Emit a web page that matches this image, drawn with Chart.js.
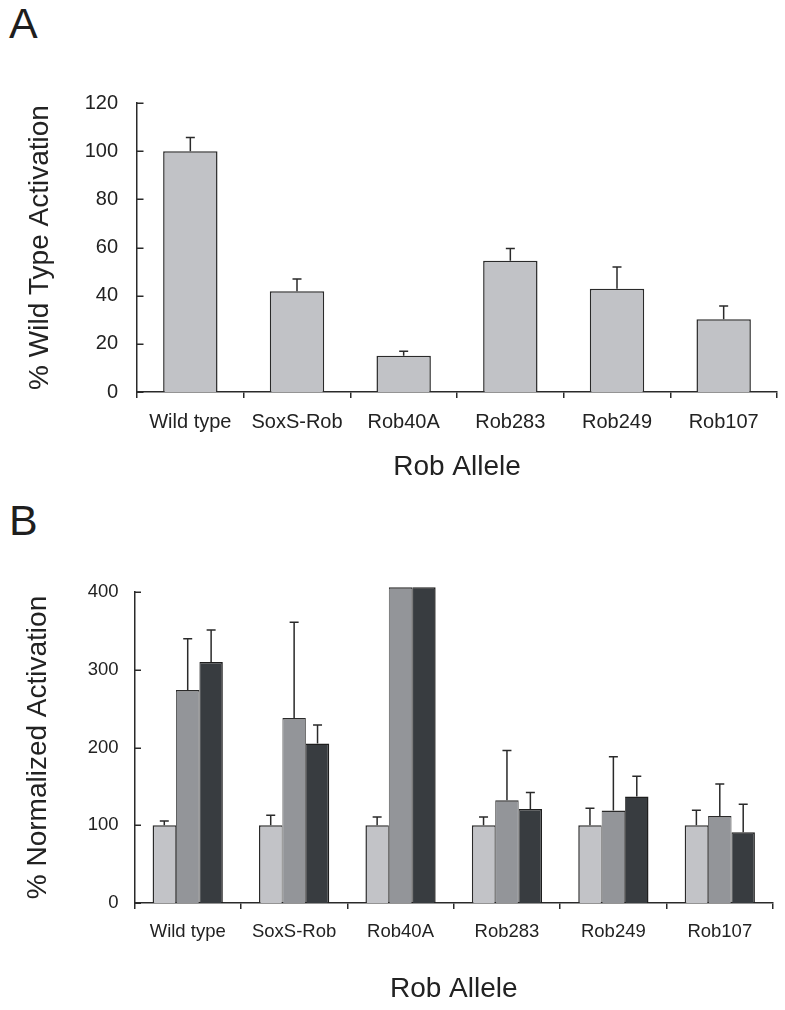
<!DOCTYPE html>
<html>
<head>
<meta charset="utf-8">
<script src="https://cdn.jsdelivr.net/npm/chart.js@4.4.1/dist/chart.umd.min.js"></script>
<style>
  html, body { margin: 0; padding: 0; background: #fff; }
  body { width: 785px; height: 1010px; position: relative; overflow: hidden; font-family: "Liberation Sans", Arial, sans-serif; }
  .panel { position: absolute; font-size: 43px; line-height: 43px; color: #1e1e1e; font-family: "Liberation Sans", Arial, sans-serif; }
  canvas { position: absolute; left: 0; }
</style>
</head>
<body>
<div class="panel" style="left:9px; top:2px;">A</div>
<div class="panel" style="left:9px; top:499px;">B</div>
<canvas id="chartA" width="785" height="500" style="top:0px;"></canvas>
<canvas id="chartB" width="785" height="510" style="top:500px;"></canvas>
<script>
// ---- Data ----
const categories = ["Wild type", "SoxS-Rob", "Rob40A", "Rob283", "Rob249", "Rob107"];

// Panel A: % wild type activation (mean, upper error)
const valuesA = [100, 41.8, 15.1, 54.5, 42.9, 30.2];
const errorsA = [5.7, 5.1, 1.8, 5.1, 9.0, 5.5];
const ticksA = [0, 20, 40, 60, 80, 100, 120];

// Panel B: % normalized activation, three series
const valuesB1 = [100, 100, 100, 100, 100, 100];
const errorsB1 = [5.5, 12.9, 10.7, 10.7, 21.9, 19.3];
const valuesB2 = [274, 238, 406, 132, 119, 112];   // Rob40A off-scale (truncated)
const errorsB2 = [66, 123, null, 64, 69, 41];
const valuesB3 = [310, 205, 406, 121, 137, 91];    // Rob40A off-scale (truncated)
const errorsB3 = [41, 24, null, 21, 26, 36];
const ticksB = [0, 100, 200, 300, 400];

const FONT = "'Liberation Sans', Arial, sans-serif";
const INK = '#222222';

// ---- Plugins ----
const errorBars = {
  id: 'errorBars',
  afterDatasetsDraw(chart) {
    const ctx = chart.ctx;
    const y = chart.scales.y;
    chart.data.datasets.forEach((ds, di) => {
      const errs = ds.errors;
      if (!errs) return;
      const meta = chart.getDatasetMeta(di);
      meta.data.forEach((bar, i) => {
        const e = errs[i];
        if (e == null) return;
        const v = ds.data[i];
        const yBase = y.getPixelForValue(v);
        const yTop = y.getPixelForValue(v + e);
        ctx.save();
        ctx.strokeStyle = '#2a2a2a';
        ctx.lineWidth = 1.5;
        ctx.beginPath();
        ctx.moveTo(bar.x, yBase);
        ctx.lineTo(bar.x, yTop);
        ctx.moveTo(bar.x - 4.5, yTop);
        ctx.lineTo(bar.x + 4.5, yTop);
        ctx.stroke();
        ctx.restore();
      });
    });
  }
};

const innerYTicks = {
  id: 'innerYTicks',
  afterDraw(chart) {
    const s = chart.scales.y;
    const ctx = chart.ctx;
    ctx.save();
    ctx.strokeStyle = '#2a2a2a';
    ctx.lineWidth = 1.5;
    ctx.beginPath();
    s.ticks.forEach((t, i) => {
      const py = Math.round(s.getPixelForTick(i)) + 0.25;
      ctx.moveTo(s.right, py);
      ctx.lineTo(s.right + 6.5, py);
    });
    ctx.stroke();
    ctx.restore();
  }
};

function xScale(fontSize, labelPad, height) {
  return {
    type: 'category',
    offset: true,
    grid: { display: true, drawOnChartArea: false, drawTicks: true, tickLength: 6, offset: true, color: '#2a2a2a', lineWidth: 1.5 },
    border: { display: true, color: '#2a2a2a', width: 1.5 },
    ticks: { color: INK, font: { family: FONT, size: fontSize }, padding: labelPad, maxRotation: 0, autoSkip: false },
    title: { display: true, text: 'Rob Allele', color: INK, font: { family: FONT, size: 28 }, padding: 0 },
    afterFit(scale) { scale.height = height; }
  };
}

function yScale(max, step, tickList, fontSize, labelPad, width, titleText) {
  return {
    type: 'linear',
    min: 0,
    max: max,
    afterBuildTicks(scale) { scale.ticks = tickList.map(v => ({ value: v })); },
    grid: { display: false, drawTicks: false },
    border: { display: true, color: '#2a2a2a', width: 1.5 },
    ticks: { stepSize: step, color: INK, font: { family: FONT, size: fontSize }, padding: labelPad },
    title: { display: true, text: titleText, color: INK, font: { family: FONT, size: 28 }, padding: 0 },
    afterFit(scale) { scale.width = width; }
  };
}

const common = {
  responsive: false,
  animation: false,
  devicePixelRatio: 1,
  events: [],
  plugins: { legend: { display: false }, tooltip: { enabled: false }, title: { display: false } }
};

// ---- Chart A ----
new Chart(document.getElementById('chartA'), {
  type: 'bar',
  data: {
    labels: categories,
    datasets: [{
      data: valuesA,
      errors: errorsA,
      backgroundColor: '#c1c2c6',
      borderColor: '#2a2a2a',
      borderWidth: { top: 1.5, left: 1.5, right: 1.5, bottom: 0 },
      borderSkipped: 'start',
      barPercentage: 0.51,
      categoryPercentage: 1
    }]
  },
  options: Object.assign({}, common, {
    layout: { padding: { left: 23, top: 103, right: 8, bottom: 16 } },
    scales: {
      x: xScale(20, 12, 92),
      y: yScale(120, 20, ticksA, 20, 19, 114, '% Wild Type Activation')
    }
  }),
  plugins: [errorBars, innerYTicks]
});

// ---- Chart B ----
new Chart(document.getElementById('chartB'), {
  type: 'bar',
  data: {
    labels: categories,
    datasets: [
      { data: valuesB1, errors: errorsB1, backgroundColor: '#c2c3c7', borderColor: '#2a2a2a',
        borderWidth: { top: 1.5, left: 1.5, right: 0.8, bottom: 0 }, barPercentage: 1, categoryPercentage: 0.66, clip: false },
      { data: valuesB2, errors: errorsB2, backgroundColor: '#939599', borderColor: '#2a2a2a',
        borderWidth: { top: 1.5, left: 0.8, right: 0.8, bottom: 0 }, barPercentage: 1, categoryPercentage: 0.66, clip: false },
      { data: valuesB3, errors: errorsB3, backgroundColor: '#383c40', borderColor: '#1e1e1e',
        borderWidth: { top: 1.5, left: 0.8, right: 1.5, bottom: 0 }, barPercentage: 1, categoryPercentage: 0.66, clip: false }
    ]
  },
  options: Object.assign({}, common, {
    layout: { padding: { left: 21, top: 92, right: 12, bottom: 4 } },
    scales: {
      x: xScale(18.5, 12, 103),
      y: yScale(400, 100, ticksB, 18.5, 16, 113.5, '% Normalized Activation')
    }
  }),
  plugins: [errorBars, innerYTicks]
});
</script>
</body>
</html>
